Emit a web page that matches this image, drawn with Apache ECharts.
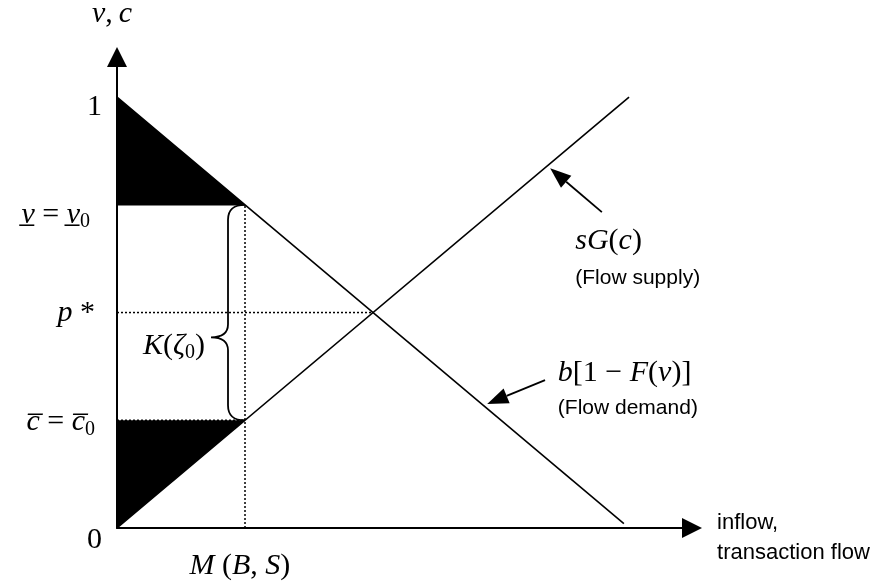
<!DOCTYPE html>
<html>
<head>
<meta charset="UTF-8">
<title></title>
<script src="https://cdn.jsdelivr.net/npm/echarts@6/dist/echarts.min.js"></script>
</head>
<body style="margin:0">
<div id="main" style="width:888px;height:584px"></div>
<script type="text/javascript">
var SERIF = '"Liberation Serif", "Times New Roman", serif';
var SANS = '"Liberation Sans", Arial, sans-serif';

// demand b[1-F(v)] and supply sG(c)
var demand = [[0, 1], [0.99, 0.01]];
var supply = [[0, 0], [1, 1]];
// black surplus triangles
var shadeTop = [[0, 1], [0, 0.75], [0.25, 0.75]];
var shadeBottom = [[0, 0], [0, 0.25], [0.25, 0.25]];
// guide lines
var vLevel = [[0, 0.75], [0.25, 0.75]];
var cLevel = [[0, 0.25], [0.25, 0.25]];
var pLevel = [[0, 0.5], [0.5, 0.5]];
var mLevel = [[0.25, 0], [0.25, 0.75]];
// y ticks
var yTicks = [1, 0.75, 0.5, 0.25, 0];
var yTickLabels = [
	'{r|1}',
	'{i|v\u0332}{r| = }{i|v\u0332}{s|0}',
	'{i|p}{r| *}',
	'{i|c\u0305}{r| = }{i|c\u0305}{s|0}',
	'{r|0}'
];
// brace K(zeta0): from c0 up to v0, at M(B,S)
var braceLow = 0.25, braceHigh = 0.75, braceAt = 0.25;
// arrows: tail x, tail y, head x, head y
var arrows = [
	[0.947, 0.733, 0.846, 0.835],
	[0.836, 0.343, 0.723, 0.288]
];
// free labels: x, y, text
var notes = [
	[-0.049, 1.193, '{i|v}{r|,\u2009}{i|c}'],
	[0.24, -0.088, '{i|M}{r| (}{i|B}{r|, }{i|S}{r|)}'],
	[0.172, 0.422, '{i|K}{r|(}{i|\u03b6}{s|0}{r|)}'],
	[0.895, 0.666, '{i|sG}{r|(}{i|c}{r|)}'],
	[0.895, 0.580, '(Flow supply)'],
	[0.861, 0.360, '{i|b}{r|[1 \u2212 }{i|F}{r|(}{i|v}{r|)]}'],
	[0.861, 0.278, '(Flow demand)'],
	[1.172, 0.012, 'inflow,'],
	[1.172, -0.058, 'transaction flow']
];
var noteAlign = ['left', 'center', 'right', 'left', 'left', 'left', 'left', 'left', 'left'];
var noteSize = [30, 30, 30, 30, 21, 30, 21, 22, 22];
var tickShift = [[-15, 10], [-27, 10], [-22, 1], [-22, 2], [-15, 12]];

var RICH = {
	i: {fontFamily: SERIF, fontStyle: 'italic', fontSize: 30, lineHeight: 34, color: '#000'},
	r: {fontFamily: SERIF, fontSize: 30, lineHeight: 34, color: '#000'},
	s: {fontFamily: SERIF, fontSize: 20, lineHeight: 20, verticalAlign: 'bottom', color: '#000'}
};

function lineSeries(data, dashed) {
	return {
		type: 'line', data: data, silent: true, showSymbol: false, symbol: 'none',
		lineStyle: {color: '#000', width: dashed ? 1.5 : 1.6, type: dashed ? [2, 2] : 'solid'},
		z: 3
	};
}

function shadeSeries(points) {
	return {
		type: 'custom', silent: true, data: [0], z: 2,
		renderItem: function (params, api) {
			return {
				type: 'polygon',
				shape: {points: points.map(function (p) { return api.coord(p); })},
				style: {fill: '#000'}
			};
		}
	};
}

var myCharts = echarts.init(document.querySelector('#main'));

var option = {
	animation: false,
	backgroundColor: '#fff',
	grid: {left: 117, right: 196, top: 57, bottom: 56},
	xAxis: {
		type: 'value', min: 0, max: 1.123,
		axisLine: {lineStyle: {color: '#000', width: 2}, symbol: ['none', 'triangle'], symbolSize: [20, 20]},
		axisTick: {show: false}, axisLabel: {show: false}, splitLine: {show: false}
	},
	yAxis: {
		type: 'value', min: 0, max: 1.093,
		axisLine: {lineStyle: {color: '#000', width: 2}, symbol: ['none', 'triangle'], symbolSize: [20, 20]},
		axisTick: {show: false}, axisLabel: {show: false}, splitLine: {show: false}
	},
	series: [
		shadeSeries(shadeTop),
		shadeSeries(shadeBottom),
		lineSeries(demand),
		lineSeries(supply),
		lineSeries(vLevel),
		lineSeries(cLevel, true),
		lineSeries(pLevel, true),
		lineSeries(mLevel, true),
		{
			// brace K(zeta0)
			type: 'custom', silent: true, data: [0], z: 4,
			renderItem: function (params, api) {
				var top = api.coord([braceAt, braceHigh]);
				var bot = api.coord([braceAt, braceLow]);
				var sx = top[0] - 17, tx = top[0] - 34;
				var ty = top[1] + (bot[1] - top[1]) * 0.615;
				var d = 'M' + top[0] + ',' + top[1] +
					' C' + (sx + 6) + ',' + top[1] + ' ' + sx + ',' + (top[1] + 4) + ' ' + sx + ',' + (top[1] + 15) +
					' L' + sx + ',' + (ty - 13) +
					' C' + sx + ',' + (ty - 3) + ' ' + (sx - 8) + ',' + ty + ' ' + tx + ',' + ty +
					' C' + (sx - 8) + ',' + ty + ' ' + sx + ',' + (ty + 3) + ' ' + sx + ',' + (ty + 13) +
					' L' + sx + ',' + (bot[1] - 15) +
					' C' + sx + ',' + (bot[1] - 4) + ' ' + (sx + 6) + ',' + bot[1] + ' ' + bot[0] + ',' + bot[1];
				return {type: 'path', shape: {pathData: d}, style: {fill: null, stroke: '#000', lineWidth: 1.8}};
			}
		},
		{
			// pointer arrows
			type: 'custom', silent: true, data: arrows, z: 5,
			renderItem: function (params, api) {
				var a = api.coord([api.value(0), api.value(1)]);
				var b = api.coord([api.value(2), api.value(3)]);
				var ang = Math.atan2(b[1] - a[1], b[0] - a[0]);
				var len = 21, half = 8;
				var bx = b[0] - len * Math.cos(ang), by = b[1] - len * Math.sin(ang);
				var nx = -Math.sin(ang) * half, ny = Math.cos(ang) * half;
				return {
					type: 'group',
					children: [
						{type: 'line', shape: {x1: a[0], y1: a[1], x2: bx, y2: by}, style: {stroke: '#000', lineWidth: 1.8}},
						{type: 'polygon', shape: {points: [b, [bx + nx, by + ny], [bx - nx, by - ny]]}, style: {fill: '#000'}}
					]
				};
			}
		},
		{
			// y tick labels
			type: 'custom', silent: true, z: 6,
			data: yTicks.map(function (v, i) { return [0, v, i]; }),
			renderItem: function (params, api) {
				var i = api.value(2);
				var p = api.coord([0, api.value(1)]);
				return {
					type: 'text', x: p[0] + tickShift[i][0], y: p[1] + tickShift[i][1],
					style: {text: yTickLabels[i], rich: RICH, align: 'right', verticalAlign: 'middle', fill: '#000'}
				};
			}
		},
		{
			// annotations
			type: 'custom', silent: true, z: 6,
			data: notes.map(function (n, i) { return [n[0], n[1], i]; }),
			renderItem: function (params, api) {
				var i = api.value(2);
				var p = api.coord([api.value(0), api.value(1)]);
				var txt = notes[i][2];
				var isMath = txt.charAt(0) === '{';
				return {
					type: 'text', x: p[0], y: p[1],
					style: {
						text: txt, rich: RICH, align: noteAlign[i], verticalAlign: 'middle', fill: '#000',
						fontFamily: isMath ? SERIF : SANS, fontSize: noteSize[i]
					}
				};
			}
		}
	]
};

myCharts.setOption(option);
</script>
</body>
</html>
